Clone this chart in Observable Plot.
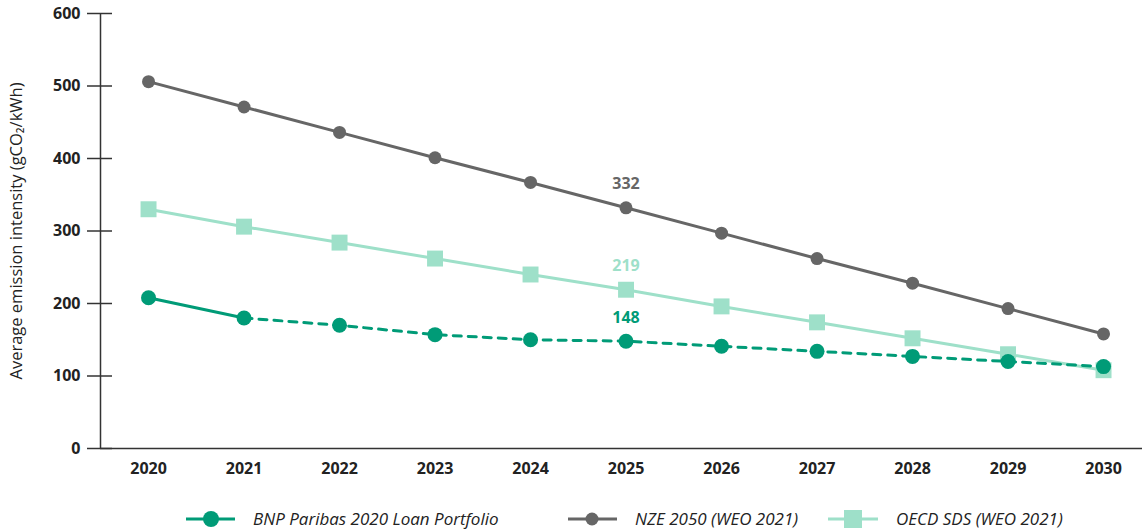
<!DOCTYPE html>
<html><head><meta charset="utf-8">
<script src="https://cdn.jsdelivr.net/npm/d3@7"></script>
<script src="https://cdn.jsdelivr.net/npm/@observablehq/plot@0.6"></script>
<style>
body{margin:0;background:#fff;font-family:"Open Sans",sans-serif;}
#legend{position:relative;height:36px;font-family:"Open Sans",sans-serif;font-style:italic;font-size:17px;color:#222;}
.item{position:absolute;top:12px;display:flex;align-items:center;gap:18px;}
</style></head><body>
<div id="chart"></div>
<div id="legend"></div>
<script>
const years = [2020,2021,2022,2023,2024,2025,2026,2027,2028,2029,2030];
const bnp = [208,180,170,157,150,148,141,134,127,120,113];
const nze = [506,471,436,401,367,332,297,262,228,193,158];
const oecd = [330,306,284,262,240,219,196,174,152,130,108];
const seriesNames = ["BNP Paribas 2020 Loan Portfolio","NZE 2050 (WEO 2021)","OECD SDS (WEO 2021)"];
const colors = ["#009b77","#666666","#9ee0c9"];
const yTicks = [0,100,200,300,400,500,600];
const labelYear = 2025;

const rows = (vals,name)=>years.map((y,i)=>({year:y,value:vals[i],series:name}));
const bnpRows = rows(bnp,seriesNames[0]);
const nzeRows = rows(nze,seriesNames[1]);
const oecdRows = rows(oecd,seriesNames[2]);
const xDomain = [2019.497, 2030.408];

const chart = Plot.plot({
  width:1142, height:495,
  marginLeft:100, marginRight:0, marginTop:13, marginBottom:47,
  style:{fontFamily:"'Open Sans',sans-serif", fontSize:"16px", color:"#222"},
  x:{domain:xDomain, axis:null},
  y:{domain:[0,600], axis:null},
  marks:[
    Plot.ruleY([0],{stroke:"#333",strokeWidth:1.5}),
    Plot.ruleX([xDomain[0]],{y1:0,y2:600,stroke:"#333",strokeWidth:1.5}),
    Plot.axisY({ticks:yTicks, tickSize:13, tickPadding:7, tickFormat:d=>d, fontWeight:"bold", fontSize:16, stroke:"#333", strokeWidth:1.5, label:null}),
    Plot.axisY({ticks:yTicks, tickSize:-12, text:null, stroke:"#333", strokeWidth:1.5, label:null}),
    Plot.text(["Average emission intensity (gCO₂/kWh)"],{frameAnchor:"left", textAnchor:"middle", dx:-84, rotate:-90, fontSize:16.5, fill:"#222"}),
    Plot.text(years,{x:d=>d, y:0, dy:20, text:d=>String(d), fontWeight:"bold", fontSize:16, fill:"#222"}),
    Plot.line(nzeRows,{x:"year",y:"value",stroke:colors[1],strokeWidth:3}),
    Plot.dot(nzeRows,{x:"year",y:"value",fill:colors[1],r:6.5}),
    Plot.line(oecdRows,{x:"year",y:"value",stroke:colors[2],strokeWidth:3}),
    Plot.dot(oecdRows,{x:"year",y:"value",fill:colors[2],symbol:"square",r:9}),
    Plot.line(bnpRows.slice(0,2),{x:"year",y:"value",stroke:colors[0],strokeWidth:3}),
    Plot.line(bnpRows.slice(1),{x:"year",y:"value",stroke:colors[0],strokeWidth:3,strokeDasharray:"8,7"}),
    Plot.dot(bnpRows,{x:"year",y:"value",fill:colors[0],r:7.5}),
    Plot.text(nzeRows.filter(d=>d.year===labelYear),{x:"year",y:"value",text:d=>String(d.value),dy:-24,fontWeight:"bold",fontSize:16,fill:colors[1]}),
    Plot.text(oecdRows.filter(d=>d.year===labelYear),{x:"year",y:"value",text:d=>String(d.value),dy:-24,fontWeight:"bold",fontSize:16,fill:colors[2]}),
    Plot.text(bnpRows.filter(d=>d.year===labelYear),{x:"year",y:"value",text:d=>String(d.value),dy:-23,fontWeight:"bold",fontSize:16,fill:colors[0]})
  ]
});
document.getElementById("chart").appendChild(chart);

const lg = document.getElementById("legend");
const lefts = [186,568,828];
const marker = [
  `<svg width="49" height="20"><line x1="0" y1="10" x2="49" y2="10" stroke="${colors[0]}" stroke-width="3"/><circle cx="25" cy="10" r="8" fill="${colors[0]}"/></svg>`,
  `<svg width="49" height="20"><line x1="0" y1="10" x2="49" y2="10" stroke="${colors[1]}" stroke-width="3"/><circle cx="24" cy="10" r="6.5" fill="${colors[1]}"/></svg>`,
  `<svg width="50" height="20"><line x1="0" y1="10" x2="50" y2="10" stroke="${colors[2]}" stroke-width="3"/><rect x="16" y="1" width="18" height="18" fill="${colors[2]}"/></svg>`
];
seriesNames.forEach((n,i)=>{
  const d=document.createElement("div");d.className="item";d.style.left=lefts[i]+"px";
  d.innerHTML=marker[i]+`<span>${n}</span>`;lg.appendChild(d);
});
</script>
</body></html>
